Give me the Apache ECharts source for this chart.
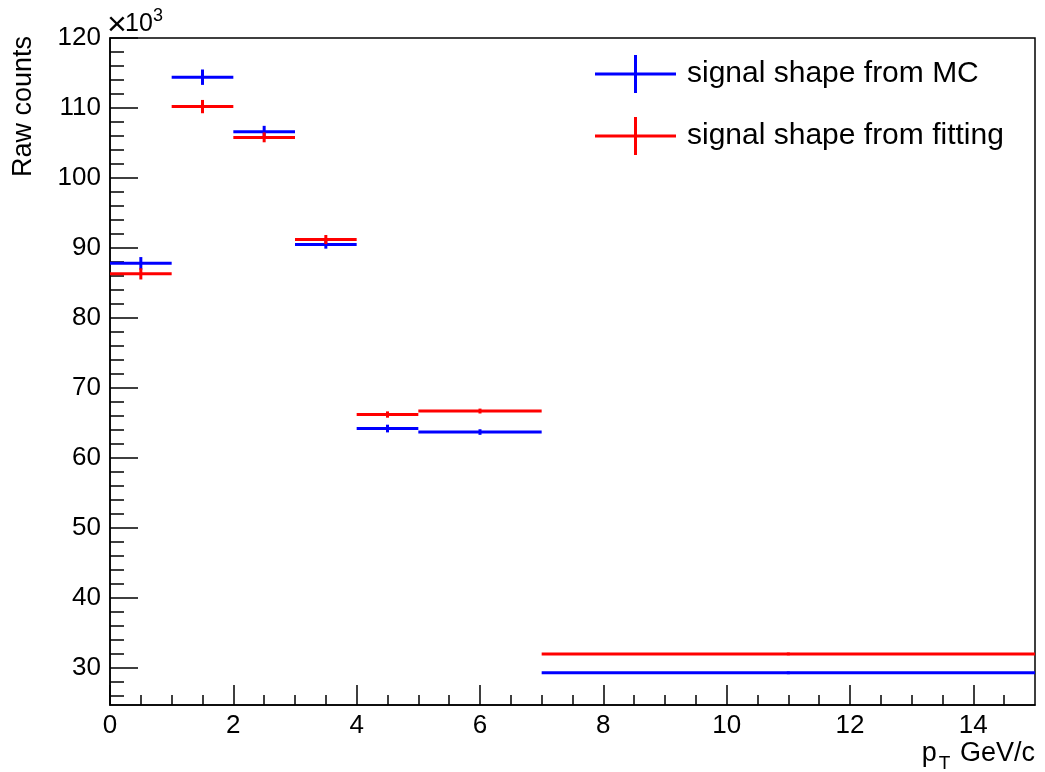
<!DOCTYPE html>
<html>
<head>
<meta charset="utf-8">
<script src="https://cdn.jsdelivr.net/npm/echarts@6/dist/echarts.min.js"></script>
<style>html,body{margin:0;padding:0;background:#fff;}#c{width:1045px;height:772px;}</style>
</head>
<body>
<div id="c"></div>
<script>
// Bin edges (pT, GeV/c)
const binLow  = [0, 1, 2, 3, 4, 5, 7];
const binHigh = [1, 2, 3, 4, 5, 7, 15];
// Raw counts (x10^3)
const mcValues  = [87.8, 114.4, 106.6, 90.5, 64.2, 63.7, 29.3];
const mcErrors  = [0.9, 1.1, 0.85, 0.6, 0.55, 0.4, 0.2];
const fitValues = [86.3, 110.2, 105.8, 91.2, 66.2, 66.7, 32.0];
const fitErrors = [0.8, 0.95, 0.7, 0.65, 0.45, 0.35, 0.2];
// Axis ticks
const xMajorTicks = [0, 2, 4, 6, 8, 10, 12, 14];
const xMinorTicks = [0.5, 1, 1.5, 2.5, 3, 3.5, 4.5, 5, 5.5, 6.5, 7, 7.5, 8.5, 9, 9.5, 10.5, 11, 11.5, 12.5, 13, 13.5, 14.5];
const yMajorTicks = [30, 40, 50, 60, 70, 80, 90, 100, 110, 120];
const yMinorTicks = [26, 28, 32, 34, 36, 38, 42, 44, 46, 48, 52, 54, 56, 58, 62, 64, 66, 68, 72, 74, 76, 78, 82, 84, 86, 88, 92, 94, 96, 98, 102, 104, 106, 108, 112, 114, 116, 118];
const seriesNames = ['signal shape from MC', 'signal shape from fitting'];
const seriesColors = ['#0000ff', '#ff0000'];
const yTitle = 'Raw counts';

const FONT = 'Liberation Sans, Arial, sans-serif';

function toData(vals, errs) {
  return vals.map((v, i) => [binLow[i], binHigh[i], v, errs[i]]);
}

function makeRender(color) {
  return function (params, api) {
    const lo = api.value(0), hi = api.value(1), v = api.value(2), e = api.value(3);
    const mid = (lo + hi) / 2;
    const a = api.coord([lo, v]), b = api.coord([hi, v]);
    const t = api.coord([mid, v + e]), d = api.coord([mid, v - e]);
    return {
      type: 'group',
      children: [
        { type: 'line', shape: { x1: a[0], y1: a[1], x2: b[0], y2: b[1] }, style: { stroke: color, lineWidth: 3 } },
        { type: 'line', shape: { x1: t[0], y1: t[1], x2: d[0], y2: d[1] }, style: { stroke: color, lineWidth: 3 } }
      ]
    };
  };
}

const crossIcon = 'path://M0,17.5 L81,17.5 L81,20.5 L0,20.5 Z M39,0 L42,0 L42,38 L39,38 Z';

const chart = echarts.init(document.getElementById('c'), null, { renderer: 'canvas' });

const xMin = 0, xMax = 15, yMin = 24.7, yMax = 120;

chart.setOption({
  animation: false,
  backgroundColor: '#ffffff',
  grid: { left: 110, right: 10, top: 38, bottom: 67, containLabel: false, outerBoundsMode: 'none', show: true, borderColor: '#000', borderWidth: 1.5, backgroundColor: 'transparent' },
  legend: {
    left: 590, top: 50, orient: 'vertical',
    itemWidth: 81, itemHeight: 38, itemGap: 24,
    icon: crossIcon,
    textStyle: { fontFamily: FONT, fontSize: 30, color: '#000', padding: [0, 0, 0, 6] },
    data: seriesNames
  },
  xAxis: [
    {
      type: 'value', min: xMin, max: xMax, position: 'bottom',
      axisLine: { show: true, lineStyle: { color: '#000', width: 1.5 } },
      axisTick: { show: true, inside: true, length: 20, customValues: xMajorTicks, lineStyle: { color: '#000', width: 1.5 } },
      axisLabel: { show: true, customValues: xMajorTicks, margin: 8, fontFamily: FONT, fontSize: 26, color: '#000' },
      splitLine: { show: false }
    },
    {
      type: 'value', min: xMin, max: xMax, position: 'bottom', gridIndex: 0,
      axisLine: { show: false },
      axisTick: { show: true, inside: true, length: 10, customValues: xMinorTicks, lineStyle: { color: '#000', width: 1.5 } },
      axisLabel: { show: false },
      splitLine: { show: false }
    }
  ],
  yAxis: [
    {
      type: 'value', min: yMin, max: yMax, position: 'left',
      axisLine: { show: true, lineStyle: { color: '#000', width: 1.5 } },
      axisTick: { show: true, inside: true, length: 28, customValues: yMajorTicks, lineStyle: { color: '#000', width: 1.5 } },
      axisLabel: { show: true, customValues: yMajorTicks, margin: 9, fontFamily: FONT, fontSize: 26, color: '#000' },
      splitLine: { show: false }
    },
    {
      type: 'value', min: yMin, max: yMax, position: 'left',
      axisLine: { show: false },
      axisTick: { show: true, inside: true, length: 14, customValues: yMinorTicks, lineStyle: { color: '#000', width: 1.5 } },
      axisLabel: { show: false },
      splitLine: { show: false }
    }
  ],
  graphic: [
    {
      type: 'text', x: 24, y: 36, rotation: Math.PI / 2,
      style: { text: yTitle, font: '27px ' + FONT, fill: '#000', align: 'right', verticalAlign: 'middle' }
    },
    {
      type: 'text', left: 107, top: 9,
      style: { text: '×', font: '34px ' + FONT, fill: '#000' }
    },
    {
      type: 'text', left: 125, top: 12,
      style: { text: '10', font: '25px ' + FONT, fill: '#000' }
    },
    {
      type: 'text', left: 153, top: 7,
      style: { text: '3', font: '18px ' + FONT, fill: '#000' }
    },
    {
      type: 'text', x: 1035, y: 754,
      style: {
        text: '{p|p}{sub|T}{g| GeV/c}', align: 'right', verticalAlign: 'middle',
        rich: {
          p: { fontFamily: FONT, fontSize: 27, fill: '#000', color: '#000' },
          sub: { fontFamily: FONT, fontSize: 19, fill: '#000', color: '#000', padding: [20, 2, 0, 2] },
          g: { fontFamily: FONT, fontSize: 27, fill: '#000', color: '#000' }
        }
      }
    }
  ],
  series: [
    {
      name: seriesNames[0], type: 'custom', xAxisIndex: 0, yAxisIndex: 0,
      color: seriesColors[0], itemStyle: { color: seriesColors[0] },
      renderItem: makeRender(seriesColors[0]),
      encode: { x: [0, 1], y: 2 },
      data: toData(mcValues, mcErrors)
    },
    {
      name: seriesNames[1], type: 'custom', xAxisIndex: 0, yAxisIndex: 0,
      color: seriesColors[1], itemStyle: { color: seriesColors[1] },
      renderItem: makeRender(seriesColors[1]),
      encode: { x: [0, 1], y: 2 },
      data: toData(fitValues, fitErrors)
    }
  ]
});
</script>
</body>
</html>
